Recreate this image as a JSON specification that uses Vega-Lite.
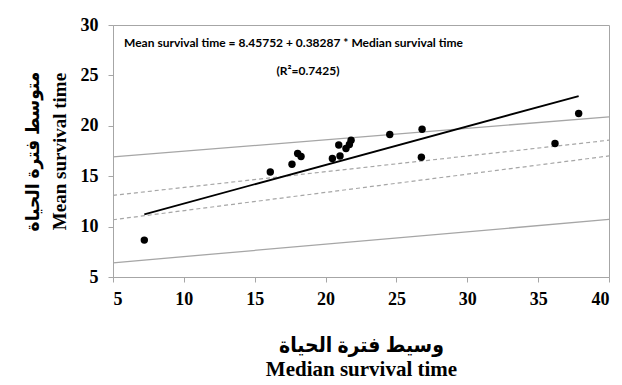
{
  "$schema": "https://vega.github.io/schema/vega-lite/v6.json",
  "width": 496,
  "height": 252,
  "autosize": "none",
  "padding": {"left": 113, "top": 25, "right": 13, "bottom": 108},
  "background": "white",
  "config": {
    "view": {"stroke": "#a6a6a6", "strokeWidth": 1}
  },
  "datasets": {
    "points": [
      {"median": 7.21, "mean": 8.66},
      {"median": 16.1, "mean": 15.42},
      {"median": 17.63, "mean": 16.18},
      {"median": 18.03, "mean": 17.25},
      {"median": 18.27, "mean": 16.95},
      {"median": 20.48, "mean": 16.75},
      {"median": 20.93, "mean": 18.1},
      {"median": 21.02, "mean": 17.0},
      {"median": 21.44, "mean": 17.74},
      {"median": 21.68, "mean": 18.14},
      {"median": 21.8, "mean": 18.57},
      {"median": 24.53, "mean": 19.13},
      {"median": 26.81, "mean": 19.66},
      {"median": 26.76, "mean": 16.88},
      {"median": 36.19, "mean": 18.24},
      {"median": 37.86, "mean": 21.22}
    ],
    "pred": [
      {"band": "upper", "median": 5, "mean": 16.91},
      {"band": "upper", "median": 40, "mean": 20.89},
      {"band": "lower", "median": 5, "mean": 6.41},
      {"band": "lower", "median": 40, "mean": 10.71}
    ],
    "conf": [
      {"band": "upper", "median": 5, "mean": 13.1},
      {"band": "upper", "median": 40, "mean": 18.57},
      {"band": "lower", "median": 5, "mean": 10.68},
      {"band": "lower", "median": 40, "mean": 17.01}
    ],
    "fit": [
      {"median": 7.21, "mean": 11.22},
      {"median": 37.86, "mean": 22.95}
    ],
    "notes": [
      {"median": 5.78, "mean": 28.2, "label": "Mean survival time = 8.45752 + 0.38287 * Median survival time", "align": "left"},
      {"median": 18.76, "mean": 25.43, "label": "(R²=0.7425)", "align": "center"}
    ]
  },
  "encoding": {
    "x": {
      "field": "median", "type": "quantitative",
      "scale": {"domain": [5, 40], "nice": false, "zero": false},
      "axis": {
        "values": [5, 10, 15, 20, 25, 30, 35, 40],
        "format": "d",
        "grid": false,
        "domainColor": "#a6a6a6",
        "tickColor": "#a6a6a6",
        "tickSize": 5,
        "labelFont": "Liberation Serif",
        "labelFontWeight": "bold",
        "labelFontSize": 18,
        "labelColor": "black",
        "labelPadding": 8,
        "title": ["وسيط فترة الحياة", "Median survival time"],
        "titleFont": "Liberation Serif, DejaVu Sans Condensed, DejaVu Sans",
        "titleFontWeight": "bold",
        "titleFontSize": 21,
        "titleColor": "black",
        "titlePadding": 26,
        "titleLineHeight": 24
      }
    },
    "y": {
      "field": "mean", "type": "quantitative",
      "scale": {"domain": [5, 30], "nice": false, "zero": false},
      "axis": {
        "values": [5, 10, 15, 20, 25, 30],
        "format": "d",
        "grid": false,
        "domainColor": "#a6a6a6",
        "tickColor": "#a6a6a6",
        "tickSize": 5,
        "labelFont": "Liberation Serif",
        "labelFontWeight": "bold",
        "labelFontSize": 18,
        "labelColor": "black",
        "labelPadding": 10,
        "title": ["متوسط فترة الحياة", "Mean survival time"],
        "titleFont": "Liberation Serif, DejaVu Sans Condensed, DejaVu Sans",
        "titleFontWeight": "bold",
        "titleFontSize": 19,
        "titleColor": "black",
        "titlePadding": 11,
        "titleLineHeight": 27
      }
    }
  },
  "layer": [
    {
      "data": {"name": "pred"},
      "mark": {"type": "line", "color": "#a6a6a6", "strokeWidth": 1.3},
      "encoding": {"detail": {"field": "band"}}
    },
    {
      "data": {"name": "conf"},
      "mark": {"type": "line", "color": "#a6a6a6", "strokeWidth": 1.2, "strokeDash": [4, 3]},
      "encoding": {"detail": {"field": "band"}}
    },
    {
      "data": {"name": "fit"},
      "mark": {"type": "line", "color": "black", "strokeWidth": 1.8}
    },
    {
      "data": {"name": "points"},
      "mark": {"type": "circle", "color": "black", "opacity": 1, "size": 55}
    },
    {
      "data": {"name": "notes"},
      "transform": [{"filter": "datum.align == 'left'"}],
      "mark": {"type": "text", "align": "left", "baseline": "middle", "font": "Lato", "fontWeight": "bold", "fontSize": 12, "color": "black"},
      "encoding": {"text": {"field": "label"}}
    },
    {
      "data": {"name": "notes"},
      "transform": [{"filter": "datum.align == 'center'"}],
      "mark": {"type": "text", "align": "center", "baseline": "middle", "font": "Lato", "fontWeight": "bold", "fontSize": 12, "color": "black"},
      "encoding": {"text": {"field": "label"}}
    }
  ]
}
